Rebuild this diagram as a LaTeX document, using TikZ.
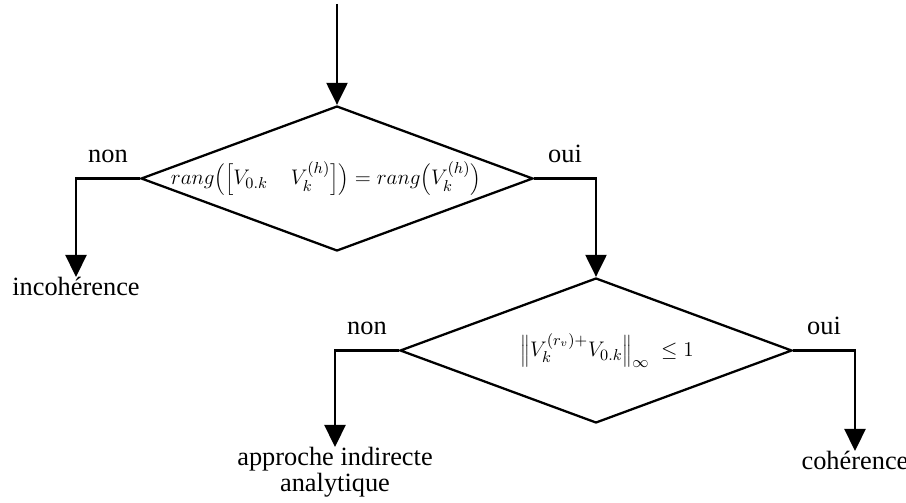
\documentclass[tikz,border=0pt]{standalone}
\usepackage{fontspec}
\setmainfont{Liberation Serif}
\usetikzlibrary{arrows.meta,positioning,shapes.geometric}

\begin{document}
\begin{tikzpicture}[
  test/.style={draw, diamond, line width=1.3pt, inner sep=0pt, minimum width=7.84cm, minimum height=2.9cm},
  arr/.style={-{Triangle[length=0.44cm, width=0.42cm]}, line width=1.3pt},
  lbl/.style={font=\fontsize{15}{17}\selectfont, inner sep=0pt},
  formula/.style={font=\fontsize{13}{15}\selectfont, inner sep=0pt},
  note/.style={align=center, font=\fontsize{15}{14.5}\selectfont, inner sep=0pt}
]
\useasboundingbox (0,0) rectangle (18.12,10.04);

\coordinate (start) at (6.74,9.96);
\node[test] (rank) at (6.74,6.47) {};
\node[formula] (rankf) at (6.52,6.47) {$rang\Bigl(\Bigl[V_{0.k}\quad V_k^{(h)}\Bigr]\Bigr) = rang\Bigl(V_k^{(h)}\Bigr)$};
\node[test] (norm) at (11.92,3.03) {};
\node[formula] (normf) at (12.14,3.03) {$\Bigl\|V_k^{(r_v)+}V_{0.k}\Bigr\|_\infty\ \le 1$};

\node[note, anchor=north] (incoh) at (1.52,4.5) {incohérence};
\node[note, anchor=north] (indir) at (6.70,1.1) {approche indirecte\\analytique};
\node[note, anchor=north] (coher) at (17.10,1.02) {cohérence};

\draw[arr] (start) -- (rank.north);
\draw[arr] (rank.west) -- node[lbl, above=0.3cm] {non} (rank.west -| incoh.north) -- (incoh.north);
\draw[arr] (rank.east) -- node[lbl, above=0.3cm] {oui} (rank.east -| norm.north) -- (norm.north);
\draw[arr] (norm.west) -- node[lbl, above=0.3cm] {non} (norm.west -| indir.north) -- (indir.north);
\draw[arr] (norm.east) -- node[lbl, above=0.3cm] {oui} (norm.east -| coher.north) -- (coher.north);

\end{tikzpicture}
\end{document}
